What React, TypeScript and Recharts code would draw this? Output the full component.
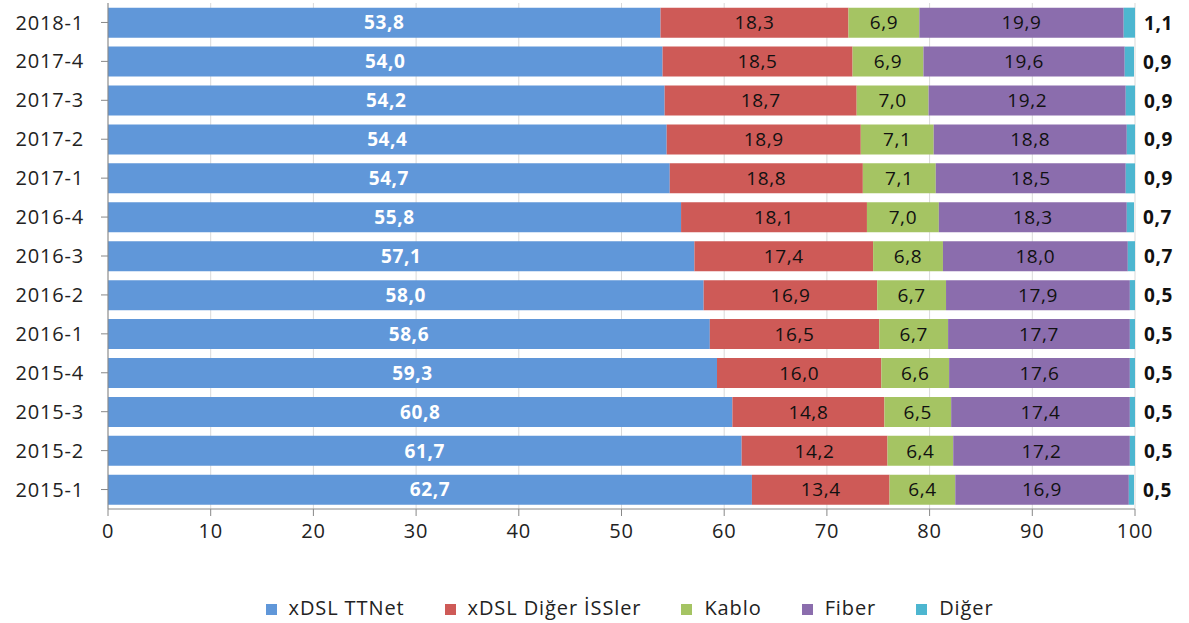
import React from 'react';
import { BarChart, Bar, XAxis, YAxis, CartesianGrid, Legend, LabelList } from 'recharts';

const periods = ['2018-1', '2017-4', '2017-3', '2017-2', '2017-1', '2016-4', '2016-3', '2016-2', '2016-1', '2015-4', '2015-3', '2015-2', '2015-1'];
const ttnet = [53.8, 54.0, 54.2, 54.4, 54.7, 55.8, 57.1, 58.0, 58.6, 59.3, 60.8, 61.7, 62.7];
const digerIss = [18.3, 18.5, 18.7, 18.9, 18.8, 18.1, 17.4, 16.9, 16.5, 16.0, 14.8, 14.2, 13.4];
const kablo = [6.9, 6.9, 7.0, 7.1, 7.1, 7.0, 6.8, 6.7, 6.7, 6.6, 6.5, 6.4, 6.4];
const fiber = [19.9, 19.6, 19.2, 18.8, 18.5, 18.3, 18.0, 17.9, 17.7, 17.6, 17.4, 17.2, 16.9];
const diger = [1.1, 0.9, 0.9, 0.9, 0.9, 0.7, 0.7, 0.5, 0.5, 0.5, 0.5, 0.5, 0.5];
const xTicks = [0, 10, 20, 30, 40, 50, 60, 70, 80, 90, 100];
const seriesOrder = ['ttnet', 'digerIss', 'kablo', 'fiber', 'diger'];

const data = periods.map((p, i) => ({
  period: p,
  ttnet: ttnet[i],
  digerIss: digerIss[i],
  kablo: kablo[i],
  fiber: fiber[i],
  diger: diger[i],
}));

const FONT = '"Open Sans", sans-serif';
const fmt = (v: any) => Number(v).toFixed(1).replace('.', ',');

const OutsideLabel = (props: any) => {
  const { x, y, width, height, value } = props;
  return (
    <text
      x={x + width + 9}
      y={y + height / 2}
      dominantBaseline="central"
      fill="#111"
      fontWeight="bold"
      fontSize={19}
      letterSpacing={0.6}
      fontFamily={FONT}
    >
      {fmt(value)}
    </text>
  );
};

const labelStyle = { fontSize: 19, fontFamily: FONT, letterSpacing: 0.6 };

export default function App() {
  return (
    <div style={{ position: 'absolute', left: 0, top: 0, background: '#fff' }}>
      <BarChart
        width={1189}
        height={623}
        data={data}
        layout="vertical"
        margin={{ top: 3, right: 54, bottom: 2, left: 0 }}
        barCategoryGap="12%"
      >
        <CartesianGrid horizontal={false} stroke="#d9d9d9" />
        <XAxis
          type="number"
          domain={[0, 100]}
          ticks={xTicks}
          allowDataOverflow
          height={44}
          stroke="#888"
          tickSize={7}
          tick={{ fill: '#222', fontSize: 20, fontFamily: FONT, letterSpacing: 0.8 }}
          tickMargin={8}
        />
        <YAxis
          type="category"
          dataKey="period"
          width={108}
          stroke="#888"
          tickSize={7}
          tick={{ fill: '#222', fontSize: 20, fontFamily: FONT, letterSpacing: 0.8 }}
          tickMargin={17}
        />
        <Legend
          verticalAlign="bottom"
          align="center"
          iconType="square"
          iconSize={11}
          itemSorter={(item: any) => seriesOrder.indexOf(item.dataKey)}
          wrapperStyle={{ fontFamily: FONT, fontSize: 20, paddingTop: 41, paddingLeft: 82, lineHeight: '27px' }}
          formatter={(value) => (
            <span style={{ color: '#222', marginLeft: 8, marginRight: 30, letterSpacing: 0.9 }}>{value}</span>
          )}
        />
        <Bar dataKey="ttnet" name="xDSL TTNet" stackId="a" fill="#6097D9" isAnimationActive={false}>
          <LabelList dataKey="ttnet" position="center" formatter={fmt} fill="#fff" fontWeight="bold" {...labelStyle} />
        </Bar>
        <Bar dataKey="digerIss" name="xDSL Diğer İSSler" stackId="a" fill="#CE5A57" isAnimationActive={false}>
          <LabelList dataKey="digerIss" position="center" formatter={fmt} fill="#111" {...labelStyle} />
        </Bar>
        <Bar dataKey="kablo" name="Kablo" stackId="a" fill="#A5C463" isAnimationActive={false}>
          <LabelList dataKey="kablo" position="center" formatter={fmt} fill="#111" {...labelStyle} />
        </Bar>
        <Bar dataKey="fiber" name="Fiber" stackId="a" fill="#8B6DAD" isAnimationActive={false}>
          <LabelList dataKey="fiber" position="center" formatter={fmt} fill="#111" {...labelStyle} />
        </Bar>
        <Bar dataKey="diger" name="Diğer" stackId="a" fill="#4DB6D0" isAnimationActive={false}>
          <LabelList dataKey="diger" content={<OutsideLabel />} />
        </Bar>
      </BarChart>
    </div>
  );
}
